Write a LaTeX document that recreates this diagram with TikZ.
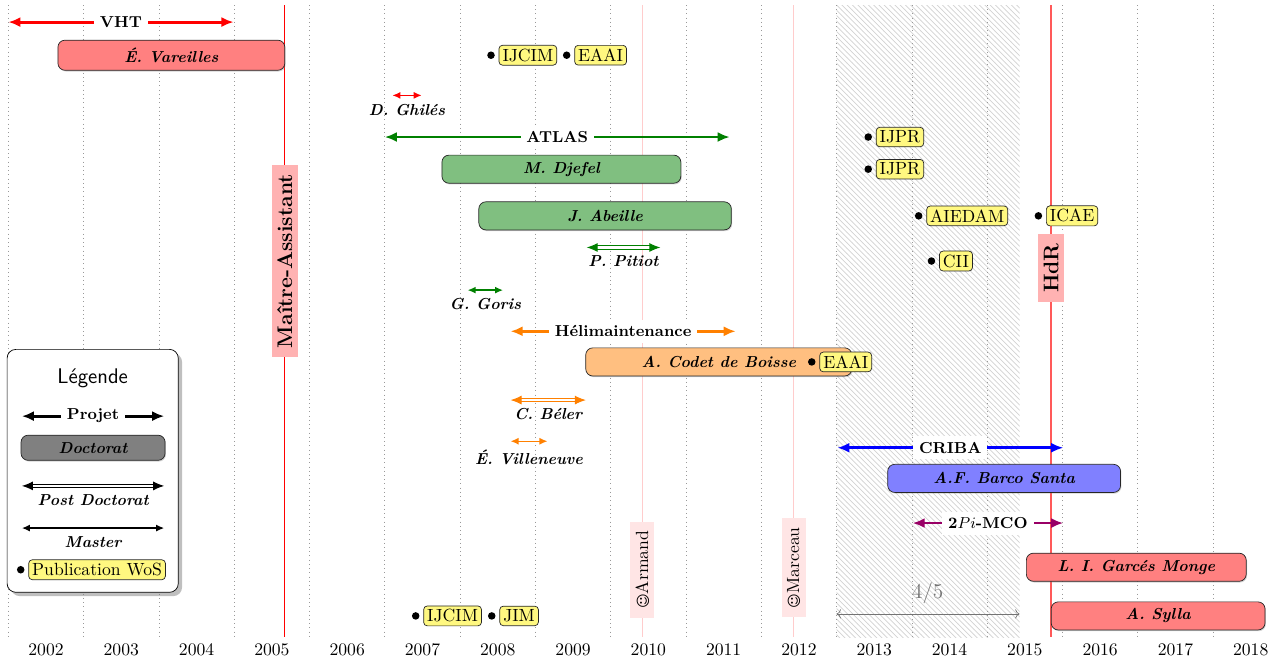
\documentclass[tikz,border=0pt]{standalone}
\usepackage{fontspec}
\newfontfamily\smileyfont{DejaVu Sans}
\usetikzlibrary{arrows.meta,patterns,shadows,positioning}

\definecolor{mcocolor}{rgb}{0.6,0,0.4}

\tikzset{
  gridline/.style={gray!80, dotted},
  year/.style={font=\normalsize},
  projet/.style={line width=1.6pt, {Latex[length=2.4mm,width=2mm]}-{Latex[length=2.4mm,width=2mm]}},
  projlabel/.style={fill=white, text=black, font=\small\bfseries},
  these/.style={draw=black!85, rounded corners=4pt, minimum height=0.56cm, font=\small\bfseries\itshape,
    drop shadow={opacity=0.35, shadow xshift=0.5pt, shadow yshift=-0.7pt}},
  postdoc/.style={double, double distance=1.2pt, line width=0.6pt, {Latex[length=2.2mm,width=1.8mm]}-{Latex[length=2.2mm,width=1.8mm]}},
  master/.style={line width=0.8pt, {Latex[length=1.6mm,width=1.4mm]}-{Latex[length=1.6mm,width=1.4mm]}},
  nomlabel/.style={below=2.5pt, text=black, font=\small\bfseries\itshape, inner sep=2pt},
  pubdot/.style={circle, fill=black, inner sep=0pt, minimum size=0.15cm},
  pub/.style={draw=black!85, fill=yellow!50, rounded corners=2pt, inner sep=2pt},
  event/.style={rotate=90, inner xsep=5pt, inner ysep=3pt},
}

\begin{document}
\begin{tikzpicture}[x=1.5cm,y=1cm]
    \useasboundingbox (1.389,0) rectangle (18.389,-13.167);

    % periode a 4/5
    \fill[pattern=north west lines, pattern color=gray!35] (12.5,-0.1) rectangle (14.93,-12.69);

    % grille
    \draw[gridline] (1.5,-0.1) -- (1.5,-12.69);
    \draw[gridline] (2.5,-0.1) -- (2.5,-12.69);
    \draw[gridline] (3.5,-0.1) -- (3.5,-12.69);
    \draw[gridline] (4.5,-0.1) -- (4.5,-12.69);
    \draw[gridline] (5.5,-0.1) -- (5.5,-12.69);
    \draw[gridline] (6.5,-0.1) -- (6.5,-12.69);
    \draw[gridline] (7.5,-0.1) -- (7.5,-12.69);
    \draw[gridline] (8.5,-0.1) -- (8.5,-12.69);
    \draw[gridline] (9.5,-0.1) -- (9.5,-12.69);
    \draw[gridline] (10.5,-0.1) -- (10.5,-12.69);
    \draw[gridline] (11.5,-0.1) -- (11.5,-12.69);
    \draw[gridline] (12.5,-0.1) -- (12.5,-12.69);
    \draw[gridline] (13.5,-0.1) -- (13.5,-12.69);
    \draw[gridline] (14.5,-0.1) -- (14.5,-12.69);
    \draw[gridline] (15.5,-0.1) -- (15.5,-12.69);
    \draw[gridline] (16.5,-0.1) -- (16.5,-12.69);
    \draw[gridline] (17.5,-0.1) -- (17.5,-12.69);

    \draw (2,-12.95) node[year] (y02) {2002};
    \draw (3,-12.95) node[year] (y03) {2003};
    \draw (4,-12.95) node[year] (y04) {2004};
    \draw (5,-12.95) node[year] (y05) {2005};
    \draw (6,-12.95) node[year] (y06) {2006};
    \draw (7,-12.95) node[year] (y07) {2007};
    \draw (8,-12.95) node[year] (y08) {2008};
    \draw (9,-12.95) node[year] (y09) {2009};
    \draw (10,-12.95) node[year] (y10) {2010};
    \draw (11,-12.95) node[year] (y11) {2011};
    \draw (12,-12.95) node[year] (y12) {2012};
    \draw (13,-12.95) node[year] (y13) {2013};
    \draw (14,-12.95) node[year] (y14) {2014};
    \draw (15,-12.95) node[year] (y15) {2015};
    \draw (16,-12.95) node[year] (y16) {2016};
    \draw (17,-12.95) node[year] (y17) {2017};
    \draw (18,-12.95) node[year] (y18) {2018};

    \draw[<->, black!55] (12.5,-12.23) -- (14.93,-12.23);
    \draw (13.71,-11.81) node[black!55, font=\large] (quota) {$4/5$};

    % evenements
    \draw[red!20] (9.92,-0.1) -- (9.92,-12.69);
    \draw (9.92,-11.35) node[event, fill=red!10] (armand) {{\smileyfont\footnotesize ☺}Armand};
    \draw[red!20] (11.93,-0.1) -- (11.93,-12.69);
    \draw (11.93,-11.31) node[event, fill=red!10] (marceau) {{\smileyfont\footnotesize ☺}Marceau};

    \draw[red] (5.17,-0.1) -- (5.17,-12.69);
    \draw (5.17,-5.20) node[event, fill=red!30, font=\large\bfseries] (ma) {Maître-Assistant};
    \draw[red!65, line width=0.8pt] (15.35,-0.1) -- (15.35,-12.69);

    % VHT
    \draw[projet, red] (1.5,-0.44) -- node[projlabel] (vht) {VHT} (4.49,-0.44);
    \draw (3.665,-1.10) node[these, fill=red!50, minimum width=4.52cm, minimum height=0.6cm] (vareilles) {É. Vareilles};
    \draw[master, red] (6.6,-1.90) -- node[nomlabel] (ghiles) {D. Ghilés} (6.99,-1.90);

    % ATLAS
    \draw[projet, green!50!black] (6.5,-2.73) -- node[projlabel] (atlas) {ATLAS} (11.08,-2.73);
    \draw (8.845,-3.37) node[these, fill=green!50!black!50, minimum width=4.76cm] (djefel) {M. Djefel};
    \draw (9.425,-4.30) node[these, fill=green!50!black!50, minimum width=5.03cm] (abeille) {J. Abeille};
    \draw[postdoc, green!50!black] (9.18,-4.93) -- node[nomlabel] (pitiot) {P. Pitiot} (10.16,-4.93);
    \draw[master, green!50!black] (7.6,-5.78) -- node[nomlabel] (goris) {G. Goris} (8.07,-5.78);

    % Helimaintenance
    \draw[projet, orange] (8.17,-6.60) -- node[projlabel] (helim) {Hélimaintenance} (11.16,-6.60);
    \draw (10.935,-7.21) node[these, fill=orange!50, minimum width=5.30cm] (codet) {A. Codet de Boisse};
    \draw[postdoc, orange] (8.17,-7.97) -- node[nomlabel] (beler) {C. Béler} (9.17,-7.97);
    \draw[master, orange] (8.17,-8.79) -- node[nomlabel] (villeneuve) {É. Villeneuve} (8.66,-8.79);

    % CRIBA et 2Pi-MCO
    \draw[projet, blue] (12.51,-8.92) -- node[projlabel] (criba) {CRIBA} (15.51,-8.92);
    \draw (14.725,-9.53) node[these, fill=blue!50, minimum width=4.64cm] (barco) {A.F. Barco Santa};
    \draw[projet, mcocolor] (13.51,-10.42) -- node[projlabel] (mco) {\textbf{2}$Pi$\textbf{-MCO}} (15.51,-10.42);
    \draw (16.48,-11.30) node[these, fill=red!50, minimum width=4.38cm] (garces) {L. I. Garcés Monge};
    \draw (16.77,-12.27) node[these, fill=red!50, minimum width=4.26cm] (sylla) {A. Sylla};

    \draw (15.35,-5.34) node[event, fill=red!30, font=\large\bfseries] (hdr) {HdR};

    % publications
    \draw (7.91,-1.10) node[pubdot] (dijcimA) {};
    \node[pub, right=0.07cm of dijcimA] (ijcimA) {IJCIM};
    \draw (8.915,-1.10) node[pubdot] (deaaiA) {};
    \node[pub, right=0.07cm of deaaiA] (eaaiA) {EAAI};
    \draw (12.92,-2.73) node[pubdot] (dijprA) {};
    \node[pub, right=0.07cm of dijprA] (ijprA) {IJPR};
    \draw (12.92,-3.37) node[pubdot] (dijprB) {};
    \node[pub, right=0.07cm of dijprB] (ijprB) {IJPR};
    \draw (13.59,-4.30) node[pubdot] (daiedam) {};
    \node[pub, right=0.07cm of daiedam] (aiedam) {AIEDAM};
    \draw (15.18,-4.30) node[pubdot] (dicae) {};
    \node[pub, right=0.07cm of dicae] (icae) {ICAE};
    \draw (13.76,-5.20) node[pubdot] (dcii) {};
    \node[pub, right=0.07cm of dcii] (cii) {CII};
    \draw (12.17,-7.21) node[pubdot] (deaaiB) {};
    \node[pub, right=0.07cm of deaaiB] (eaaiB) {EAAI};
    \draw (6.91,-12.27) node[pubdot] (dijcimB) {};
    \node[pub, right=0.07cm of dijcimB] (ijcimB) {IJCIM};
    \draw (7.92,-12.27) node[pubdot] (djim) {};
    \node[pub, right=0.07cm of djim] (jim) {JIM};

    % legende
    \draw (2.62,-9.38) node[draw, fill=white, rounded corners=5pt, drop shadow, minimum width=3.41cm, minimum height=4.84cm] (legende) {};
    \draw (2.62,-7.53) node[font=\sffamily\large] (legtitre) {Légende};
    \draw[projet] (1.68,-8.29) -- node[projlabel] (legprojet) {Projet} (3.57,-8.29);
    \draw (2.625,-8.92) node[these, fill=black!50, minimum width=2.87cm, minimum height=0.5cm] (legthese) {Doctorat};
    \draw[postdoc] (1.68,-9.68) -- node[nomlabel] (legpostdoc) {Post Doctorat} (3.57,-9.68);
    \draw[master] (1.68,-10.52) -- node[nomlabel] (legmaster) {Master} (3.57,-10.52);
    \draw (1.664,-11.35) node[pubdot] (dlegpub) {};
    \node[pub, right=0.07cm of dlegpub] (legpub) {Publication WoS};
\end{tikzpicture}
\end{document}
